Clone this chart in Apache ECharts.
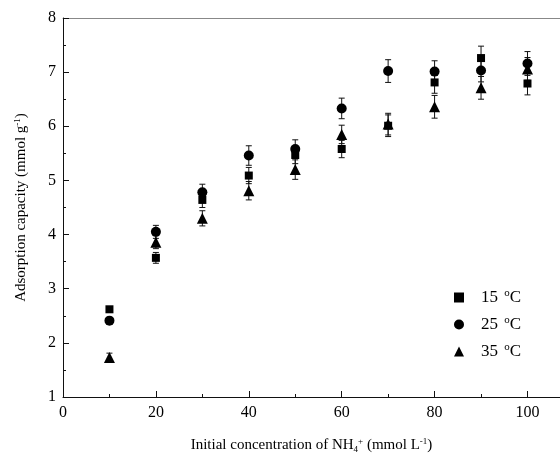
<!DOCTYPE html>
<html><head><meta charset="utf-8">
<script src="https://cdn.jsdelivr.net/npm/echarts@6/dist/echarts.min.js"></script>
<style>html,body{margin:0;padding:0;background:#fff}#c{width:560px;height:464px}</style>
</head><body><div id="c"></div>
<script>
var conc = [10, 20, 30, 40, 50, 60, 70, 80, 90, 100];
var t15 = [2.62, 3.57, 4.64, 5.09, 5.47, 5.58, 6.01, 6.81, 7.26, 6.79];
var t25 = [2.41, 4.05, 4.78, 5.46, 5.58, 6.33, 7.02, 7.01, 7.03, 7.16];
var t35 = [1.73, 3.86, 4.30, 4.81, 5.20, 5.85, 6.04, 6.36, 6.71, 7.06];
var e15 = [0.05, 0.10, 0.14, 0.15, 0.16, 0.16, 0.20, 0.20, 0.22, 0.21];
var e25 = [0.05, 0.12, 0.15, 0.18, 0.17, 0.19, 0.21, 0.20, 0.21, 0.22];
var e35 = [0.08, 0.12, 0.14, 0.17, 0.18, 0.17, 0.20, 0.21, 0.21, 0.21];
var names = ['15 °C', '25 °C', '35 °C'];
var xTicks = [0, 20, 40, 60, 80, 100];
var yTicks = [1, 2, 3, 4, 5, 6, 7, 8];

var FONT = '"Liberation Serif", "DejaVu Serif", serif';
function pts(v){ return conc.map(function(x,i){ return [x, v[i]]; }); }
function errs(v,e){ return conc.map(function(x,i){ return [x, v[i], e[i]]; }); }
function errSeries(v,e){
  return {
    type:'custom', silent:true, z:1,
    data: errs(v,e),
    renderItem: function(params, api){
      var x = api.value(0), y = api.value(1), d = api.value(2);
      var top = api.coord([x, y + d]), bot = api.coord([x, y - d]);
      var w = 3;
      var st = {stroke:'#111', lineWidth:1};
      return {type:'group', children:[
        {type:'line', shape:{x1:top[0], y1:top[1], x2:bot[0], y2:bot[1]}, style:st},
        {type:'line', shape:{x1:top[0]-w, y1:top[1], x2:top[0]+w, y2:top[1]}, style:st},
        {type:'line', shape:{x1:bot[0]-w, y1:bot[1], x2:bot[0]+w, y2:bot[1]}, style:st}
      ]};
    }
  };
}
var leg = {'15 °C':'15 {s|o}C','25 °C':'25 {s|o}C','35 °C':'35 {s|o}C'};
var chart = echarts.init(document.getElementById('c'));
chart.setOption({
  animation:false,
  backgroundColor:'#fff',
  textStyle:{fontFamily:FONT, color:'#000'},
  grid:{left:63, top:18, bottom:67, right:0, show:false},
  legend:{
    orient:'vertical', left:449, top:283, itemGap:9, itemWidth:10, itemHeight:10,
    data:[{name:names[0], icon:'rect'},{name:names[1], icon:'circle'},{name:names[2], icon:'triangle'}],
    formatter:function(n){ return leg[n]; },
    textStyle:{fontFamily:FONT, fontSize:17, color:'#000', padding:[0,0,0,12],
      rich:{s:{fontFamily:FONT, fontSize:11, verticalAlign:'top', padding:[0,0,8,2], color:'#000'}}}
  },
  xAxis:[{
    type:'value', min:0, max:107, interval:20,
    name:'Initial concentration of NH{b|4}{p|+} (mmol L{p|-1})',
    nameLocation:'middle', nameGap:40,
    nameTextStyle:{fontFamily:FONT, fontSize:15, color:'#000',
      rich:{b:{fontSize:9, verticalAlign:'bottom', padding:[8,0,0,0], fontFamily:FONT},
            p:{fontSize:9, verticalAlign:'top', padding:[0,0,8,0], fontFamily:FONT}}},
    axisLine:{show:true, lineStyle:{color:'#111', width:1}},
    axisTick:{show:true, inside:true, length:6, lineStyle:{color:'#111'}},
    minorTick:{show:true, splitNumber:2, length:3, lineStyle:{color:'#111'}},
    splitLine:{show:false},
    axisLabel:{fontFamily:FONT, fontSize:16, color:'#000', margin:8, showMaxLabel:false,
      formatter:function(v){ return xTicks.indexOf(v) >= 0 ? String(v) : ''; }}
  },{
    type:'value', min:0, max:107, position:'top',
    axisLine:{show:true, lineStyle:{color:'#888', width:1}},
    axisTick:{show:false}, axisLabel:{show:false}, splitLine:{show:false}
  }],
  yAxis:{
    type:'value', min:1, max:8, interval:1,
    name:'Adsorption capacity (mmol g{p|-1})',
    nameLocation:'middle', nameGap:33, nameRotate:90,
    nameTextStyle:{fontFamily:FONT, fontSize:15, color:'#000',
      rich:{p:{fontSize:9, verticalAlign:'top', padding:[0,0,8,0], fontFamily:FONT}}},
    axisLine:{show:true, lineStyle:{color:'#111', width:1}},
    axisTick:{show:true, inside:true, length:6, lineStyle:{color:'#111'}},
    minorTick:{show:true, splitNumber:2, length:3, lineStyle:{color:'#111'}},
    splitLine:{show:false},
    axisLabel:{fontFamily:FONT, fontSize:16, color:'#000', margin:7,
      formatter:function(v){ return yTicks.indexOf(v) >= 0 ? String(v) : ''; }}
  },
  series:[
    errSeries(t15,e15), errSeries(t25,e25), errSeries(t35,e35),
    {name:names[0], type:'scatter', symbol:'rect', symbolSize:8, z:3, itemStyle:{color:'#000', opacity:1}, data:pts(t15)},
    {name:names[1], type:'scatter', symbol:'circle', symbolSize:10, z:3, itemStyle:{color:'#000', opacity:1}, data:pts(t25)},
    {name:names[2], type:'scatter', symbol:'triangle', symbolSize:11, z:3, itemStyle:{color:'#000', opacity:1}, data:pts(t35)}
  ]
});
</script></body></html>
